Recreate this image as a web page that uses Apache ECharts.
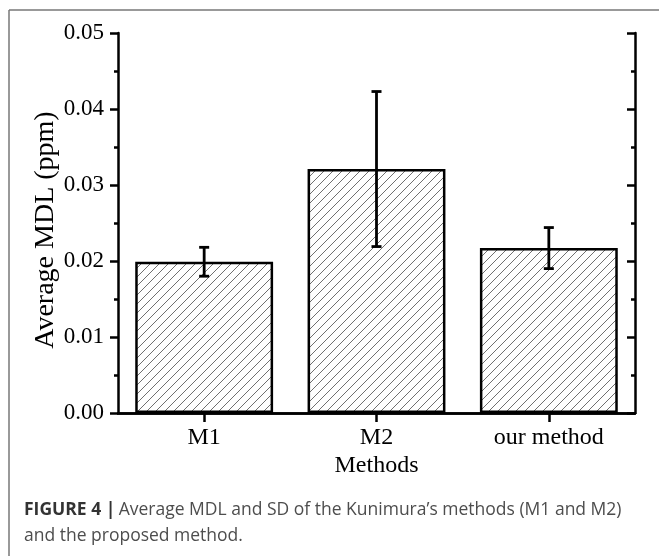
<!DOCTYPE html>
<html>
<head>
<meta charset="utf-8">
<script src="https://cdn.jsdelivr.net/npm/echarts@6/dist/echarts.min.js"></script>
<style>
  html, body { margin: 0; padding: 0; background: #fff; }
  #chart { width: 659px; height: 556px; }
</style>
</head>
<body>
<div id="chart"></div>
<script>
// Average minimum detection limit per method, with its standard deviation
const methods = ['M1', 'M2', 'our method'];
const avgMDL = [0.0199, 0.0321, 0.0217];
const sdMDL = [0.0019, 0.0102, 0.0027];
const yTicks = [0, 0.01, 0.02, 0.03, 0.04, 0.05];

const SERIF = '"Liberation Serif", "Times New Roman", serif';
const SANS = '"Open Sans", Lato, sans-serif';
const AXIS_W = 2.5;

// Diagonal hatch tile for the bar fill
function hatchTile() {
  const s = 9;
  const c = document.createElement('canvas');
  c.width = s; c.height = s;
  const g = c.getContext('2d');
  g.fillStyle = '#fff';
  g.fillRect(0, 0, s, s);
  g.strokeStyle = '#606060';
  g.lineWidth = 0.9;
  g.beginPath();
  g.moveTo(-1, s + 1); g.lineTo(s + 1, -1);
  g.moveTo(-1, 1); g.lineTo(1, -1);
  g.moveTo(s - 1, s + 1); g.lineTo(s + 1, s - 1);
  g.stroke();
  return c;
}

const errData = methods.map((m, i) => [i, avgMDL[i] - sdMDL[i], avgMDL[i] + sdMDL[i]]);

const axisLine = { show: true, lineStyle: { color: '#000', width: AXIS_W } };
const yMin = yTicks[0], yMax = yTicks[yTicks.length - 1], yStep = yTicks[1] - yTicks[0];

const chart = echarts.init(document.getElementById('chart'), null, { renderer: 'canvas' });
chart.setOption({
  animation: false,
  backgroundColor: '#fff',
  grid: { left: 118, right: 24, top: 33, bottom: 143, containLabel: false },
  xAxis: [
    {
      type: 'category', data: methods, position: 'bottom',
      axisLine: axisLine,
      axisTick: { show: true, alignWithLabel: true, inside: false, length: 9, lineStyle: { color: '#000', width: AXIS_W } },
      axisLabel: { color: '#000', fontFamily: SERIF, fontSize: 24, margin: 13 },
      name: 'Methods', nameLocation: 'middle', nameGap: 41, nameMoveOverlap: false,
      nameTextStyle: { color: '#000', fontFamily: SERIF, fontSize: 24 }
    },
    {
      type: 'category', data: methods, position: 'top',
      axisLine: axisLine,
      axisTick: { show: true, alignWithLabel: true, inside: true, length: 9, lineStyle: { color: '#000', width: AXIS_W } },
      axisLabel: { show: false }
    }
  ],
  yAxis: [
    {
      type: 'value', min: yMin, max: yMax, interval: yStep, position: 'left',
      axisLine: axisLine,
      axisTick: { show: true, inside: false, length: 8, lineStyle: { color: '#000', width: AXIS_W } },
      minorTick: { show: true, splitNumber: 2, length: 4, lineStyle: { color: '#000', width: AXIS_W } },
      splitLine: { show: false },
      axisLabel: { color: '#000', fontFamily: SERIF, fontSize: 23, margin: 14, formatter: v => v.toFixed(2) },
      name: 'Average MDL (ppm)', nameLocation: 'middle', nameGap: 58, nameRotate: 90, nameMoveOverlap: false,
      nameTextStyle: { color: '#000', fontFamily: SERIF, fontSize: 28, padding: [0, 14, 0, 0] }
    },
    {
      type: 'value', min: yMin, max: yMax, interval: yStep, position: 'right',
      axisLine: axisLine,
      axisTick: { show: true, inside: true, length: 8, lineStyle: { color: '#000', width: AXIS_W } },
      minorTick: { show: true, splitNumber: 2, length: 4, lineStyle: { color: '#000', width: AXIS_W } },
      splitLine: { show: false },
      axisLabel: { show: false }
    }
  ],
  series: [
    {
      type: 'bar', data: avgMDL, barWidth: '80%',
      xAxisIndex: 0, yAxisIndex: 0,
      itemStyle: {
        color: { image: hatchTile(), repeat: 'repeat' },
        borderColor: '#000', borderWidth: 2.5
      }
    },
    {
      type: 'custom', data: errData, xAxisIndex: 0, yAxisIndex: 0, z: 5,
      encode: { x: 0, y: [1, 2] },
      renderItem: function (params, api) {
        const lo = api.coord([api.value(0), api.value(1)]);
        const hi = api.coord([api.value(0), api.value(2)]);
        const cap = 5;
        const style = { stroke: '#000', lineWidth: 2.8 };
        return {
          type: 'group',
          children: [
            { type: 'line', shape: { x1: lo[0], y1: lo[1], x2: hi[0], y2: hi[1] }, style: style },
            { type: 'line', shape: { x1: hi[0] - cap, y1: hi[1], x2: hi[0] + cap, y2: hi[1] }, style: style },
            { type: 'line', shape: { x1: lo[0] - cap, y1: lo[1], x2: lo[0] + cap, y2: lo[1] }, style: style }
          ]
        };
      }
    }
  ],
  graphic: [
    // panel frame
    { type: 'line', shape: { x1: 9, y1: 10, x2: 659, y2: 10 }, style: { stroke: '#777', lineWidth: 1.5 } },
    { type: 'line', shape: { x1: 9, y1: 10, x2: 9, y2: 556 }, style: { stroke: '#777', lineWidth: 1.5 } },
    // caption
    {
      type: 'text', left: 24, top: 501,
      style: {
        text: '{b|FIGURE 4 |} {n|Average MDL and SD of the Kunimura\u2019s methods (M1 and M2)}',
        rich: {
          b: { fontFamily: SANS, fontWeight: 'bold', fontSize: 17.5, fill: '#333' },
          n: { fontFamily: SANS, fontSize: 17.5, fill: '#4d4d4d' }
        }
      }
    },
    {
      type: 'text', left: 24, top: 527,
      style: { text: 'and the proposed method.', fontFamily: SANS, fontSize: 17.5, fill: '#4d4d4d' }
    }
  ]
});
</script>
</body>
</html>
